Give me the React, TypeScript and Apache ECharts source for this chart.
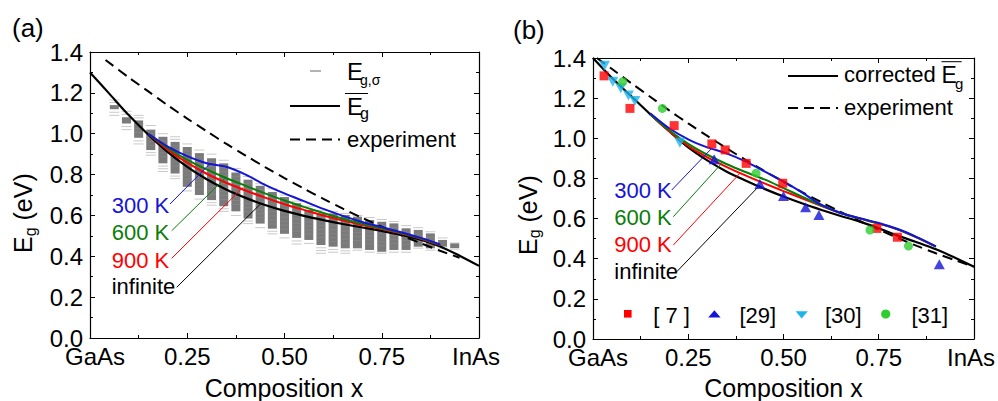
import React, { useEffect, useRef } from "react";
import * as echarts from "echarts";

const FONT = '"Liberation Sans", Arial, Helvetica, sans-serif';

// ---------------- Panel (a) data ----------------
const xGrid = [0, 0.05, 0.1, 0.15, 0.2, 0.25, 0.3, 0.35, 0.4, 0.45, 0.5, 0.55, 0.6, 0.65, 0.7, 0.75, 0.8, 0.85, 0.9, 0.95, 1.0];
const meanA = [1.30, 1.195, 1.09, 0.995, 0.91, 0.838, 0.777, 0.727, 0.686, 0.651, 0.622, 0.598, 0.577, 0.558, 0.541, 0.524, 0.505, 0.481, 0.448, 0.403, 0.353];
const xTemp = [0.15, 0.2, 0.25, 0.3, 0.35, 0.4, 0.45, 0.5, 0.55, 0.6, 0.65, 0.7, 0.75, 0.8, 0.85, 0.9];
const k300A = [1.0, 0.937, 0.89, 0.855, 0.838, 0.80, 0.75, 0.708, 0.67, 0.632, 0.598, 0.568, 0.543, 0.518, 0.49, 0.458];
const k600A = [1.0, 0.93, 0.872, 0.825, 0.783, 0.745, 0.708, 0.673, 0.642, 0.612, 0.584, 0.559, 0.537, 0.514, 0.488, 0.456];
const k900A = [1.0, 0.922, 0.858, 0.804, 0.76, 0.722, 0.687, 0.655, 0.627, 0.60, 0.575, 0.553, 0.533, 0.511, 0.486, 0.455];

const expXA = [0.04, 0.1, 0.15, 0.2, 0.25, 0.3, 0.35, 0.4, 0.45, 0.5, 0.55, 0.6, 0.65, 0.7, 0.75, 0.8, 0.85, 0.9, 0.95];
const expA = [1.361, 1.275, 1.207, 1.139, 1.074, 1.012, 0.951, 0.893, 0.837, 0.783, 0.731, 0.681, 0.633, 0.588, 0.545, 0.503, 0.464, 0.427, 0.393];

// E_g,sigma distributions (one column per composition)
const sigmaX = [0.0625, 0.09375, 0.125, 0.15625, 0.1875, 0.21875, 0.25, 0.28125, 0.3125, 0.34375, 0.375, 0.40625, 0.4375, 0.46875, 0.5, 0.53125, 0.5625, 0.59375, 0.625, 0.65625, 0.6875, 0.71875, 0.75, 0.78125, 0.8125, 0.84375, 0.875, 0.90625, 0.9375];
const sigmaTop = [1.165, 1.11, 1.09, 1.04, 1.0, 0.985, 0.95, 0.92, 0.9, 0.87, 0.83, 0.79, 0.755, 0.73, 0.7, 0.67, 0.645, 0.625, 0.62, 0.61, 0.6, 0.59, 0.58, 0.57, 0.55, 0.54, 0.52, 0.49, 0.465];
const sigmaCoreTop = [1.14, 1.08, 1.065, 1.02, 0.985, 0.96, 0.935, 0.905, 0.88, 0.855, 0.81, 0.775, 0.745, 0.715, 0.69, 0.66, 0.627, 0.61, 0.61, 0.602, 0.594, 0.578, 0.569, 0.561, 0.537, 0.529, 0.512, 0.48, 0.463];
const sigmaCoreBottom = [1.12, 1.05, 0.98, 0.92, 0.855, 0.805, 0.74, 0.7, 0.675, 0.645, 0.62, 0.585, 0.56, 0.535, 0.51, 0.49, 0.48, 0.455, 0.447, 0.439, 0.439, 0.431, 0.422, 0.431, 0.431, 0.447, 0.439, 0.447, 0.44];
const sigmaBottom = [1.09, 1.02, 0.95, 0.895, 0.815, 0.78, 0.72, 0.68, 0.65, 0.62, 0.6, 0.56, 0.54, 0.51, 0.49, 0.46, 0.463, 0.415, 0.42, 0.415, 0.43, 0.42, 0.415, 0.42, 0.42, 0.44, 0.43, 0.44, 0.435];

// ---------------- Panel (b) data ----------------
const meanB = [1.40, 1.30, 1.21, 1.12, 1.035, 0.955, 0.89, 0.835, 0.79, 0.748, 0.71, 0.675, 0.643, 0.613, 0.585, 0.552, 0.515, 0.482, 0.447, 0.405, 0.36];
const k300B = [1.125, 1.05, 0.995, 0.955, 0.925, 0.885, 0.835, 0.785, 0.728, 0.668, 0.628, 0.602, 0.578, 0.548, 0.508, 0.462];
const k600B = [1.12, 1.04, 0.972, 0.918, 0.872, 0.832, 0.795, 0.752, 0.708, 0.665, 0.628, 0.601, 0.576, 0.546, 0.506, 0.46];
const k900B = [1.12, 1.035, 0.962, 0.905, 0.858, 0.815, 0.775, 0.737, 0.70, 0.662, 0.627, 0.60, 0.575, 0.545, 0.505, 0.46];
const expXB = [0.01, 0.05, 0.1, 0.15, 0.2, 0.25, 0.3, 0.35, 0.4, 0.45, 0.5, 0.55, 0.6, 0.65, 0.7, 0.75, 0.8, 0.85, 0.9, 0.95, 1.0];
const expB = [1.40, 1.345, 1.275, 1.207, 1.139, 1.074, 1.012, 0.951, 0.893, 0.837, 0.783, 0.731, 0.681, 0.633, 0.588, 0.545, 0.503, 0.464, 0.427, 0.393, 0.36];

const ref7X = [0.029, 0.097, 0.213, 0.312, 0.347, 0.402, 0.498, 0.745, 0.799];
const ref7E = [1.311, 1.149, 1.063, 0.972, 0.942, 0.875, 0.776, 0.551, 0.507];
const ref29X = [0.318, 0.438, 0.5, 0.558, 0.593, 0.909];
const ref29E = [0.895, 0.772, 0.713, 0.656, 0.618, 0.372];
const ref30X = [0.03, 0.052, 0.073, 0.093, 0.11, 0.228];
const ref30E = [1.362, 1.282, 1.249, 1.213, 1.186, 0.978];
const ref31X = [0.078, 0.182, 0.428, 0.727, 0.828];
const ref31E = [1.282, 1.149, 0.826, 0.543, 0.463];

// tick labels
const xTickNames: Record<string, string> = { "0": "GaAs", "1": "InAs" };

// annotation arrows: [labelEnd, curvePoint] in data units
const arrowsA = {
  k300: [[0.2057, 0.656], [0.3067, 0.85]],
  k600: [[0.21, 0.525], [0.3488, 0.785]],
  k900: [[0.21, 0.39], [0.3925, 0.736]],
  inf: [[0.2229, 0.248], [0.437, 0.654]],
};
const arrowsB = {
  k300: [[0.2066, 0.742], [0.3115, 0.95]],
  k600: [[0.2108, 0.609], [0.3378, 0.875]],
  k900: [[0.2108, 0.468], [0.3858, 0.826]],
  inf: [[0.2197, 0.335], [0.4383, 0.767]],
};

const BLUE = "#1414d6";
const GREEN = "#0a7d0a";
const RED = "#ff0000";

const pairs = (xs: number[], ys: number[]) => xs.map((x, i) => [x, ys[i]]);

function buildOption() {
  const axisCommon = {
    type: "value",
    axisLine: { show: true, onZero: false, lineStyle: { color: "#000", width: 1.2 } },
    axisTick: { show: true, inside: true, length: 5, lineStyle: { color: "#000", width: 1 } },
    minorTick: { show: true, splitNumber: 2, length: 3, lineStyle: { color: "#000", width: 1 } },
    splitLine: { show: false },
  };
  const xBottom = (grid: number) => ({
    ...axisCommon,
    gridIndex: grid,
    position: "bottom",
    min: 0,
    max: 1,
    interval: 0.25,
    axisLabel: {
      margin: 6,
      fontSize: 24,
      fontFamily: FONT,
      color: "#000",
      showMinLabel: true,
      showMaxLabel: true,
      formatter: (v: number) => {
        const n = xTickNames[String(v)];
        if (n && v === 0) return "{l|" + n + "}";
        if (n) return "{r|" + n + "}";
        return v.toFixed(2);
      },
      rich: {
        l: { fontSize: 24, fontFamily: FONT, color: "#000", padding: [0, 0, 0, 10] },
        r: { fontSize: 24, fontFamily: FONT, color: "#000", padding: [0, 6, 0, 0] },
      },
    },
  });
  const xTop = (grid: number) => ({
    ...axisCommon,
    gridIndex: grid,
    position: "top",
    min: 0,
    max: 1,
    interval: 0.25,
    axisLabel: { show: false },
  });
  const yLeft = (grid: number) => ({
    ...axisCommon,
    gridIndex: grid,
    position: "left",
    min: 0,
    max: 1.4,
    interval: 0.2,
    axisLabel: {
      margin: 7,
      fontSize: 24,
      fontFamily: FONT,
      color: "#000",
      formatter: (v: number) => v.toFixed(1),
    },
  });
  const yRight = (grid: number) => ({
    ...axisCommon,
    gridIndex: grid,
    position: "right",
    min: 0,
    max: 1.4,
    interval: 0.2,
    axisLabel: { show: false },
  });

  const curve = (name: string, data: number[][], color: string, width: number, xi: number, yi: number, arrow?: number[][], dashed?: boolean) => ({
    name,
    type: "line",
    xAxisIndex: xi,
    yAxisIndex: yi,
    data,
    smooth: 0.3,
    showSymbol: false,
    symbol: "none",
    silent: true,
    lineStyle: { color, width, type: dashed ? [10, 6] : "solid" },
    z: 3,
    markLine: arrow
      ? {
          silent: true,
          symbol: ["none", "arrow"],
          symbolSize: [0, 8],
          label: { show: false },
          lineStyle: { color, width: 1, type: "solid" },
          data: [[{ coord: arrow[0] }, { coord: arrow[1] }]],
        }
      : undefined,
  });

  const sigmaSeries = {
    name: "Eg,sigma",
    type: "custom",
    xAxisIndex: 0,
    yAxisIndex: 0,
    silent: true,
    z: 1,
    data: sigmaX.map((x, i) => [x, sigmaTop[i], sigmaCoreTop[i], sigmaCoreBottom[i], sigmaBottom[i]]),
    encode: { x: 0, y: [1, 2, 3, 4] },
    renderItem: (_p: any, api: any) => {
      const x = api.value(0);
      const pT = api.coord([x, api.value(1)]);
      const pCT = api.coord([x, api.value(2)]);
      const pCB = api.coord([x, api.value(3)]);
      const pB = api.coord([x, api.value(4)]);
      const cx = pT[0];
      const w = 9;
      const children: any[] = [];
      const dash = (y: number, color: string) => ({
        type: "line",
        shape: { x1: cx - w / 2 - 0.5, y1: y, x2: cx + w / 2 + 0.5, y2: y },
        style: { stroke: color, lineWidth: 1 },
      });
      const tail = (y0: number, y1: number) => {
        const n = Math.max(1, Math.round(Math.abs(y1 - y0) / 3));
        for (let j = 0; j < n; j++) children.push(dash(y0 + ((y1 - y0) * j) / n, "#c9c9c9"));
      };
      tail(pT[1], pCT[1]);
      tail(pB[1], pCB[1]);
      const h = pCB[1] - pCT[1];
      if (h > 0.5) {
        children.push({ type: "rect", shape: { x: cx - w / 2, y: pCT[1], width: w, height: h }, style: { fill: "#7a7a7a" } });
        const n = Math.floor(h / 4);
        for (let j = 1; j < n; j++) {
          children.push({
            type: "line",
            shape: { x1: cx - w / 2, y1: pCT[1] + j * 4, x2: cx + w / 2, y2: pCT[1] + j * 4 },
            style: { stroke: "#8c8c8c", lineWidth: 0.6 },
          });
        }
      }
      return { type: "group", children };
    },
  };

  const scatter = (name: string, xs: number[], ys: number[], symbol: string, size: any, color: string, rotate = 0) => ({
    name,
    type: "scatter",
    xAxisIndex: 2,
    yAxisIndex: 2,
    data: pairs(xs, ys),
    symbol,
    symbolSize: size,
    symbolRotate: rotate,
    itemStyle: { color },
    silent: true,
    z: 5,
  });

  const T = (x: number, y: number, text: string, size: number, fill = "#000", align = "left") => ({
    type: "text",
    x,
    y,
    silent: true,
    style: {
      text,
      fontSize: size,
      fontFamily: FONT,
      fill,
      align,
      textAlign: align,
      verticalAlign: "middle",
      textVerticalAlign: "middle",
    },
  });
  const L = (x1: number, y1: number, x2: number, y2: number, stroke: string, lw: number, dash?: number[]) => ({
    type: "line",
    silent: true,
    shape: { x1, y1, x2, y2 },
    style: { stroke, lineWidth: lw, lineDash: dash },
  });

  const yTitle = (cx: number, cy: number) => ({
    type: "group",
    x: cx,
    y: cy,
    rotation: Math.PI / 2,
    silent: true,
    children: [T(-40, 0, "E", 25), T(-23.3, 7, "g", 16), T(-14.4, 0, " (eV)", 25)],
  });

  const graphics: any[] = [
    T(12, 28, "(a)", 26),
    T(513, 30, "(b)", 26),
    { ...T(284, 388, "Composition x", 25, "#000", "center") },
    { ...T(783.5, 388, "Composition x", 25, "#000", "center") },
    yTitle(23, 213),
    yTitle(527.5, 215),
    // legend (a)
    L(310, 71, 321, 71, "#9a9a9a", 1.5),
    T(347, 71.5, "E", 24),
    T(360, 80, "g,σ", 14),
    L(290, 106, 340, 106, "#000", 2.2),
    L(345, 93.5, 368, 93.5, "#000", 1),
    T(347, 106, "E", 24),
    T(360, 113.5, "g", 16),
    L(290, 139.5, 340, 139.5, "#000", 2, [10, 6]),
    T(347, 139, "experiment", 22),
    // temperature labels (a)
    T(111.7, 205, "300 K", 22, BLUE),
    T(111.7, 232.5, "600 K", 22, GREEN),
    T(111.7, 260, "900 K", 22, RED),
    T(111.7, 286, "infinite", 22, "#000"),
    // legend (b)
    L(788, 76, 838, 76, "#000", 2.2),
    T(844, 74, "corrected ", 22),
    T(941.5, 75, "E", 23),
    T(955, 83, "g", 15),
    L(941.5, 61.7, 961.7, 61.7, "#000", 1),
    L(788, 108, 838, 108, "#000", 2, [10, 6]),
    T(844, 107.5, "experiment", 22),
    // temperature labels (b)
    T(614.3, 190.5, "300 K", 22, BLUE),
    T(614.3, 217, "600 K", 22, GREEN),
    T(614.3, 244, "900 K", 22, RED),
    T(614.3, 271, "infinite", 22, "#000"),
    // scatter legend (b)
    { type: "rect", silent: true, shape: { x: 624, y: 310, width: 7.6, height: 7.6 }, style: { fill: RED } },
    T(653.3, 315, "[ 7 ]", 22),
    { type: "polygon", silent: true, shape: { points: [[708.2, 317.6], [720.6, 317.6], [714.4, 310.3]] }, style: { fill: BLUE } },
    T(739.5, 315, "[29]", 22),
    { type: "polygon", silent: true, shape: { points: [[795.6, 311.2], [807.8, 311.2], [801.7, 318.4]] }, style: { fill: "#1fb4ea" } },
    T(825, 315, "[30]", 22),
    { type: "circle", silent: true, shape: { cx: 885.7, cy: 314, r: 4.6 }, style: { fill: "#2ecc2e" } },
    T(911.5, 315, "[31]", 22),
  ];

  return {
    animation: false,
    backgroundColor: "#fff",
    textStyle: { fontFamily: FONT },
    grid: [
      { left: 90, top: 52, width: 389, height: 286 },
      { left: 593, top: 58, width: 381, height: 281 },
    ],
    xAxis: [xBottom(0), xTop(0), xBottom(1), xTop(1)],
    yAxis: [yLeft(0), yRight(0), yLeft(1), yRight(1)],
    graphic: graphics,
    series: [
      sigmaSeries,
      curve("experiment a", pairs(expXA, expA), "#000", 2, 0, 0, undefined, true),
      curve("mean a", pairs(xGrid, meanA), "#000", 2.2, 0, 0, arrowsA.inf),
      curve("900 K a", pairs(xTemp, k900A), RED, 2, 0, 0, arrowsA.k900),
      curve("600 K a", pairs(xTemp, k600A), GREEN, 2, 0, 0, arrowsA.k600),
      curve("300 K a", pairs(xTemp, k300A), BLUE, 2, 0, 0, arrowsA.k300),

      curve("experiment b", pairs(expXB, expB), "#000", 2, 2, 2, undefined, true),
      curve("corrected b", pairs(xGrid, meanB), "#000", 2.2, 2, 2, arrowsB.inf),
      curve("900 K b", pairs(xTemp, k900B), RED, 2, 2, 2, arrowsB.k900),
      curve("600 K b", pairs(xTemp, k600B), GREEN, 2, 2, 2, arrowsB.k600),
      curve("300 K b", pairs(xTemp, k300B), BLUE, 2, 2, 2, arrowsB.k300),
      scatter("[ 7 ]", ref7X, ref7E, "rect", 9, RED),
      scatter("[29]", ref29X, ref29E, "triangle", [11, 10], BLUE),
      scatter("[30]", ref30X, ref30E, "triangle", [11, 10], "#1fb4ea", 180),
      scatter("[31]", ref31X, ref31E, "circle", 9, "#2ecc2e"),
    ],
  };
}

export default function App() {
  const ref = useRef<HTMLDivElement>(null);
  useEffect(() => {
    if (!ref.current) return;
    const chart = echarts.init(ref.current, null, { renderer: "svg" });
    chart.setOption(buildOption() as any);
    return () => chart.dispose();
  }, []);
  return (
    <div
      ref={ref}
      style={{ position: "absolute", left: 0, top: 0, width: 998, height: 401, background: "#fff" }}
    />
  );
}
